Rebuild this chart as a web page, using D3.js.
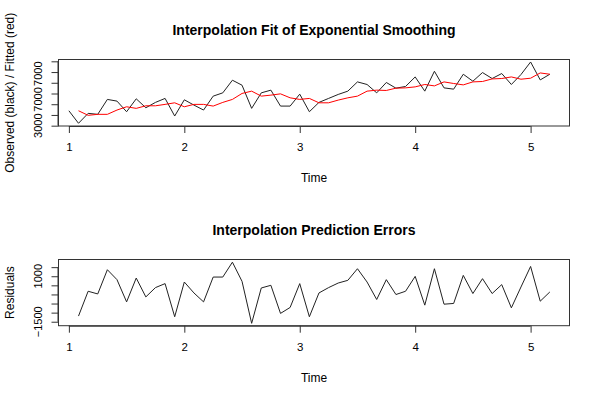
<!DOCTYPE html>
<html><head><meta charset="utf-8">
<script src="https://cdn.jsdelivr.net/npm/d3@7"></script>
<style>body{margin:0;background:#fff}svg{display:block;font-family:"Liberation Sans",Arial,Helvetica,sans-serif}</style>
</head><body><svg id="c" width="600" height="400"></svg>
<script>
// time index: t = 1 + i/12
const observed = [4391,3223,4150,4057,5449,5291,4299,5505,4670,5171,5542,3900,5412,4920,4456,5755,6061,7239,6775,4614,6061,6312,4827,4827,5940,4299,5171,5542,5913,6219,7081,6840,6061,7026,6497,6655,7545,6219,8074,6525,6404,7796,7146,7953,7397,7861,6840,7768,8937,7267,7796];
// fitted starts at i = 1
const fitted = [4391,3965,4057,4057,4456,4762,4614,4855,4855,4985,5133,4762,4985,4985,4827,5171,5449,6005,6219,5755,5848,5968,5597,5449,5542,5133,5133,5384,5597,5755,6219,6312,6284,6497,6525,6618,6840,6710,7081,6933,6803,7081,7119,7360,7397,7545,7332,7425,7916,7796];
const residuals = [-1189,175,27,1358,813,-409,900,-136,376,595,-1227,682,82,-409,955,955,1773,720,-1587,355,502,-1042,-715,595,-1227,82,376,627,775,1413,682,-278,813,-5,175,993,-589,1413,-535,-496,1047,49,867,49,540,-736,409,1538,-371,136];
const xTicks = [1,2,3,4,5];
const topYTicks = [3000,4000,5000,6000,7000,8000,9000];
const topYLabelVals = [3000,5450,7850];
const topYLabelText = ["3000","7000","7000"];
const botYTicks = [-1500,-1000,-500,0,500,1000,1500];
const botYLabelVals = [-1500,1000];
const botYLabelText = ["\u22121500","1000"];

const svg = d3.select("#c");
svg.append("rect").attr("width",600).attr("height",400).attr("fill","#fff");

const tOf = i => 1 + i/12;
const x = d3.scaleLinear().domain([0.91,5.337]).range([58.5,569.5]);
const FS = 11.5;

function panel(top, bottom, yDomain, title, ylab, yTicks, labVals, labText, series) {
  const y = d3.scaleLinear().domain(yDomain).range([bottom, top]);
  const g = svg.append("g");
  series.forEach(s => {
    const line = d3.line().x(d => x(d[0])).y(d => y(d[1]));
    g.append("path").datum(s.data).attr("d", line).attr("fill","none")
      .attr("stroke", s.color).attr("stroke-width",1).attr("stroke-linejoin","round");
  });
  g.append("rect").attr("x",x.range()[0]).attr("y",top).attr("width",x.range()[1]-x.range()[0]).attr("height",bottom-top)
    .attr("fill","none").attr("stroke","#333").attr("stroke-width",1);
  const xa = g.append("g").attr("transform",`translate(0,${bottom})`)
    .call(d3.axisBottom(x).tickValues(xTicks).tickFormat(d3.format("d")).tickSize(7).tickPadding(10).tickSizeOuter(0));
  xa.select(".domain").attr("d", `M${x(xTicks[0])},0.5H${x(xTicks[xTicks.length-1])}`).attr("stroke","#333");
  xa.selectAll(".tick line").attr("stroke","#333");
  xa.selectAll("text").attr("font-size",FS).attr("font-family","Liberation Sans, Arial, sans-serif").attr("fill","#000");
  const ya = g.append("g").attr("transform",`translate(${x.range()[0]},0)`)
    .call(d3.axisLeft(y).tickValues(yTicks).tickFormat("").tickSize(7).tickSizeOuter(0));
  ya.select(".domain").attr("d", `M-0.5,${y(yTicks[0])}V${y(yTicks[yTicks.length-1])}`).attr("stroke","#333");
  ya.selectAll(".tick line").attr("stroke","#333");
  labVals.forEach((v,i) => {
    g.append("text").attr("transform",`translate(42,${y(v)}) rotate(-90)`).attr("text-anchor","middle")
      .attr("font-size",11).attr("fill","#000").text(labText[i]);
  });
  const cx = (x.range()[0]+x.range()[1])/2;
  g.append("text").attr("x",cx).attr("y",top-25).attr("text-anchor","middle").attr("font-size",14)
    .attr("font-weight","bold").attr("fill","#000").text(title);
  g.append("text").attr("x",cx).attr("y",bottom+56).attr("text-anchor","middle").attr("font-size",12)
    .attr("fill","#000").text("Time");
  g.append("text").attr("transform",`translate(14,${(top+bottom)/2}) rotate(-90)`).attr("text-anchor","middle")
    .attr("font-size",12).attr("fill","#000").text(ylab);
}

panel(59.5, 126, [2970,9170], "Interpolation Fit of Exponential Smoothing", "Observed (black) / Fitted (red)",
  topYTicks, topYLabelVals, topYLabelText,
  [{color:"#222", data: observed.map((v,i)=>[tOf(i),v])},
   {color:"#ff0000", data: fitted.map((v,i)=>[tOf(i+1),v])}]);
panel(259.5, 325.7, [-1718,1920], "Interpolation Prediction Errors", "Residuals",
  botYTicks, botYLabelVals, botYLabelText,
  [{color:"#222", data: residuals.map((v,i)=>[tOf(i+1),v])}]);
</script></body></html>
